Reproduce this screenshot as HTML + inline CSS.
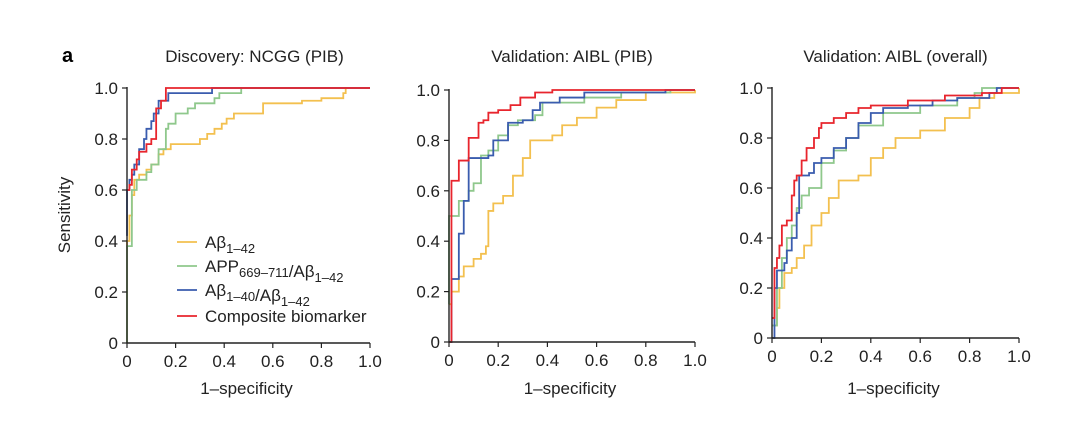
<!DOCTYPE html>
<html><head><meta charset="utf-8"><style>
body{margin:0;background:#fff;width:1080px;height:426px;overflow:hidden}
svg{font-family:"Liberation Sans",sans-serif}
</style></head><body>
<svg id="fig" width="1080" height="426" viewBox="0 0 1080 426">
<text x="62" y="62" font-size="20" font-weight="bold">a</text>
<text x="70" y="215" font-size="17" fill="#222" transform="rotate(-90 70 215)" text-anchor="middle">Sensitivity</text>
</svg>
<script>
const ticks=[0,0.2,0.4,0.6,0.8,1.0];
const tickLabels=["0","0.2","0.4","0.6","0.8","1.0"];
const titles=["Discovery: NCGG (PIB)","Validation: AIBL (PIB)","Validation: AIBL (overall)"];
const seriesNames=["abeta42","app-ratio","abeta40-ratio","composite"];
const colors=["#f3c04f","#8fc88c","#3a5cae","#e8252d"];
// Panel 1
const p1_orange_x=[0,0,0.01,0.02,0.03,0.05,0.08,0.1,0.13,0.15,0.18,0.3,0.3,0.33,0.36,0.39,0.41,0.44,0.54,0.56,0.72,0.8,0.89,0.9,1];
const p1_orange_y=[0,0.4,0.5,0.58,0.64,0.66,0.68,0.7,0.74,0.76,0.78,0.79,0.8,0.82,0.84,0.86,0.88,0.9,0.9,0.94,0.95,0.96,0.98,1,1];
const p1_green_x=[0,0,0.02,0.02,0.04,0.08,0.1,0.13,0.16,0.17,0.2,0.25,0.28,0.36,0.38,0.47,1];
const p1_green_y=[0,0.38,0.4,0.6,0.64,0.67,0.7,0.76,0.84,0.86,0.9,0.92,0.94,0.96,0.98,1,1];
const p1_blue_x=[0,0,0.01,0.02,0.03,0.05,0.07,0.08,0.1,0.11,0.13,0.17,0.35,1];
const p1_blue_y=[0.42,0.6,0.64,0.66,0.7,0.76,0.8,0.84,0.87,0.9,0.95,0.98,1,1];
const p1_red_x=[0,0.01,0.02,0.04,0.05,0.08,0.1,0.12,0.14,0.16,1];
const p1_red_y=[0.6,0.62,0.68,0.72,0.75,0.78,0.8,0.92,0.95,1,1];
// Panel 2
const p2_orange_x=[0,0.01,0.04,0.06,0.1,0.13,0.15,0.16,0.18,0.22,0.26,0.3,0.33,0.42,0.46,0.52,0.6,0.68,0.8,1];
const p2_orange_y=[0.15,0.2,0.26,0.3,0.33,0.35,0.38,0.52,0.55,0.58,0.66,0.73,0.8,0.82,0.86,0.89,0.93,0.96,0.99,1];
const p2_green_x=[0,0,0.04,0.08,0.1,0.13,0.16,0.2,0.24,0.28,0.35,0.38,0.55,0.7,0.9,1];
const p2_green_y=[0.15,0.5,0.56,0.6,0.63,0.74,0.76,0.82,0.86,0.88,0.9,0.95,0.97,0.99,1,1];
const p2_blue_x=[0,0.01,0.01,0.04,0.04,0.06,0.08,0.08,0.16,0.18,0.24,0.24,0.3,0.34,0.37,0.45,0.55,0.88,1];
const p2_blue_y=[0,0.02,0.25,0.25,0.43,0.56,0.56,0.73,0.74,0.8,0.83,0.87,0.88,0.92,0.95,0.97,0.99,1,1];
const p2_red_x=[0,0.01,0.01,0.04,0.08,0.08,0.12,0.14,0.16,0.2,0.25,0.29,0.35,0.42,1];
const p2_red_y=[0,0.48,0.64,0.72,0.72,0.81,0.87,0.88,0.91,0.92,0.94,0.97,0.99,1,1];
// Panel 3
const p3_orange_x=[0,0.02,0.03,0.05,0.08,0.1,0.13,0.16,0.2,0.23,0.27,0.35,0.4,0.45,0.5,0.6,0.7,0.8,0.84,0.9,1];
const p3_orange_y=[0.05,0.12,0.2,0.26,0.28,0.32,0.37,0.45,0.5,0.56,0.63,0.65,0.72,0.76,0.8,0.83,0.88,0.92,0.96,0.98,1];
const p3_green_x=[0,0.02,0.04,0.06,0.08,0.1,0.12,0.15,0.2,0.25,0.3,0.35,0.45,0.6,0.75,0.82,0.85,1];
const p3_green_y=[0.05,0.2,0.32,0.4,0.45,0.52,0.57,0.6,0.7,0.75,0.8,0.85,0.9,0.93,0.96,0.98,1,1];
const p3_blue_x=[0,0.01,0.02,0.05,0.06,0.08,0.1,0.11,0.15,0.17,0.2,0.25,0.3,0.35,0.4,0.45,0.55,0.65,0.75,0.88,0.91,1];
const p3_blue_y=[0,0.2,0.27,0.3,0.35,0.4,0.5,0.65,0.66,0.7,0.72,0.76,0.8,0.86,0.9,0.92,0.93,0.95,0.96,0.98,1,1];
const p3_red_x=[0,0.01,0.02,0.03,0.04,0.06,0.08,0.09,0.1,0.12,0.14,0.17,0.19,0.2,0.25,0.3,0.35,0.4,0.55,0.7,0.85,0.93,1];
const p3_red_y=[0.08,0.28,0.32,0.37,0.45,0.47,0.57,0.63,0.65,0.71,0.76,0.8,0.84,0.86,0.88,0.9,0.92,0.93,0.95,0.97,0.98,1,1];

const panels=[
 {x0:127,x1:370,y0:343,y1:88,series:[[p1_orange_x,p1_orange_y],[p1_green_x,p1_green_y],[p1_blue_x,p1_blue_y],[p1_red_x,p1_red_y]]},
 {x0:449,x1:695,y0:342,y1:90,series:[[p2_orange_x,p2_orange_y],[p2_green_x,p2_green_y],[p2_blue_x,p2_blue_y],[p2_red_x,p2_red_y]]},
 {x0:772,x1:1019,y0:338,y1:88,series:[[p3_orange_x,p3_orange_y],[p3_green_x,p3_green_y],[p3_blue_x,p3_blue_y],[p3_red_x,p3_red_y]]}
];
const NS="http://www.w3.org/2000/svg";
const svg=document.getElementById('fig');
function mk(tag,attrs,parent){const e=document.createElementNS(NS,tag);for(const k in attrs)e.setAttribute(k,attrs[k]);(parent||svg).appendChild(e);return e;}
panels.forEach((p,pi)=>{
 const sx=v=>p.x0+v*(p.x1-p.x0), sy=v=>p.y0-v*(p.y0-p.y1);
 const g=mk('g',{});
 
 
 const t=mk('text',{x:(p.x0+p.x1)/2+(pi==0?6:0),y:62,'font-size':17,fill:'#222','text-anchor':'middle'},g);
 t.textContent=titles[pi];
 
 
 p.series.forEach((s,si)=>{
  const xs=s[0],ys=s[1];let d='M'+sx(xs[0])+' '+sy(ys[0]);
  for(let i=1;i<xs.length;i++){d+=' H'+sx(xs[i])+' V'+sy(ys[i]);}
  const path=mk('path',{d:d,fill:'none',stroke:colors[si],'stroke-width':1.8},g);
  
  
 });
 const ax=mk('path',{d:`M${p.x0} ${p.y1-1} V${p.y0} H${p.x1}`,fill:'none',stroke:'#222','stroke-width':1.4},g);
 
 
 ticks.forEach((v,i)=>{
  mk('line',{x1:sx(v),x2:sx(v),y1:p.y0,y2:p.y0+5,stroke:'#222','stroke-width':1.2},g);
  mk('line',{x1:p.x0-5,x2:p.x0,y1:sy(v),y2:sy(v),stroke:'#222','stroke-width':1.2},g);
  const xl=mk('text',{x:sx(v),y:p.y0+24,'font-size':17,fill:'#222','text-anchor':'middle'},g);
  xl.textContent=tickLabels[i];
  
  
  const yl=mk('text',{x:p.x0-9,y:sy(v)+6,'font-size':17,fill:'#222','text-anchor':'end'},g);
  yl.textContent=tickLabels[i];
  
  
 });
 const xt=mk('text',{x:(p.x0+p.x1)/2-2,y:394,'font-size':17,fill:'#222','text-anchor':'middle'},g);
 xt.textContent='1\u2013specificity';
 
 
});
const leg=[["Aβ","1–42",""],["APP","669–711","/Aβ<tspan font-size='13' dy='5'>1–42</tspan>"],["Aβ","1–40","/Aβ<tspan font-size='13' dy='5'>1–42</tspan>"],["Composite biomarker","",""]];
const lg=mk('g',{});


const legY=[248,272,296,322];
leg.forEach((l,i)=>{
 const e=mk('g',{},lg);
 
 
 mk('line',{x1:177,x2:197,y1:legY[i]-6,y2:legY[i]-6,stroke:colors[i],'stroke-width':1.8},e);
 const t=mk('text',{x:205,y:legY[i],'font-size':17,fill:'#222'},e);
 t.innerHTML=l[1]?`${l[0]}<tspan font-size='13' dy='5'>${l[1]}</tspan><tspan dy='-5'></tspan>${l[2]}`:l[0];
});
</script>
</body></html>
